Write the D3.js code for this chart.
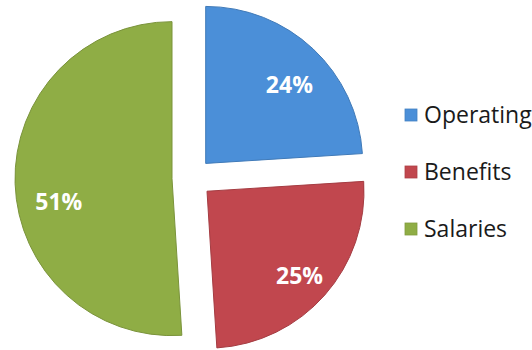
<!DOCTYPE html>
<html>
<head>
<meta charset="utf-8">
<script src="https://cdn.jsdelivr.net/npm/d3@7"></script>
<style>
  html, body { margin: 0; padding: 0; background: #fff; }
  svg { display: block; }
</style>
</head>
<body>
<svg id="chart" width="532" height="350"></svg>
<script>
// Budget shares
const categories = ["Operating", "Benefits", "Salaries"];
const shares = [24, 25, 51];
const colors = ["#4b8fd8", "#c1474e", "#8fad45"];

const width = 532, height = 350;
const cx = 192, cy = 178;       // pie centre
const radius = 157;
const explode = 20;             // how far each slice is pulled out

const svg = d3.select("#chart");

const pie = d3.pie().sort(null).value(d => d.value);
const arcs = pie(categories.map((c, i) => ({ name: c, value: shares[i] })));

const arc = d3.arc().innerRadius(0).outerRadius(radius);
const labelArc = d3.arc().innerRadius(radius * 0.76).outerRadius(radius * 0.76);

const color = d3.scaleOrdinal().domain(categories).range(colors);

// small best-fit style shifts for the percentage labels
const labelNudge = { Operating: [2, 8], Benefits: [3, 6], Salaries: [6, 19] };

const g = svg.append("g").attr("transform", `translate(${cx},${cy})`);

const slice = g.selectAll("g.slice")
  .data(arcs)
  .join("g")
  .attr("class", "slice")
  .attr("transform", d => {
    const mid = (d.startAngle + d.endAngle) / 2;
    return `translate(${Math.sin(mid) * explode},${-Math.cos(mid) * explode})`;
  });

slice.append("path")
  .attr("d", arc)
  .attr("fill", d => color(d.data.name))
  .attr("stroke", d => d3.color(color(d.data.name)).darker(0.45))
  .attr("stroke-width", 1);

slice.append("text")
  .attr("transform", d => {
    const [x, y] = labelArc.centroid(d);
    const [nx, ny] = labelNudge[d.data.name];
    return `translate(${x + nx},${y + ny})`;
  })
  .attr("text-anchor", "middle")
  .attr("dy", "0.36em")
  .attr("fill", "#ffffff")
  .attr("font-family", "'Open Sans', sans-serif")
  .attr("font-weight", "bold")
  .attr("font-size", 23)
  .text(d => d.data.value + "%");

// Legend
const legendY = d3.scalePoint().domain(categories).range([115, 229]);
const legend = svg.append("g").attr("class", "legend");
const item = legend.selectAll("g")
  .data(categories)
  .join("g")
  .attr("transform", d => `translate(405,${legendY(d)})`);

item.append("rect")
  .attr("x", 0).attr("y", -6)
  .attr("width", 12).attr("height", 12)
  .attr("fill", d => color(d))
  .attr("stroke", d => d3.color(color(d)).darker(0.3))
  .attr("stroke-width", 0.8);

item.append("text")
  .attr("x", 19)
  .attr("dy", "0.36em")
  .attr("fill", "#1a1a1a")
  .attr("font-family", "'Open Sans', sans-serif")
  .attr("font-size", 23)
  .text(d => d);
</script>
</body>
</html>
